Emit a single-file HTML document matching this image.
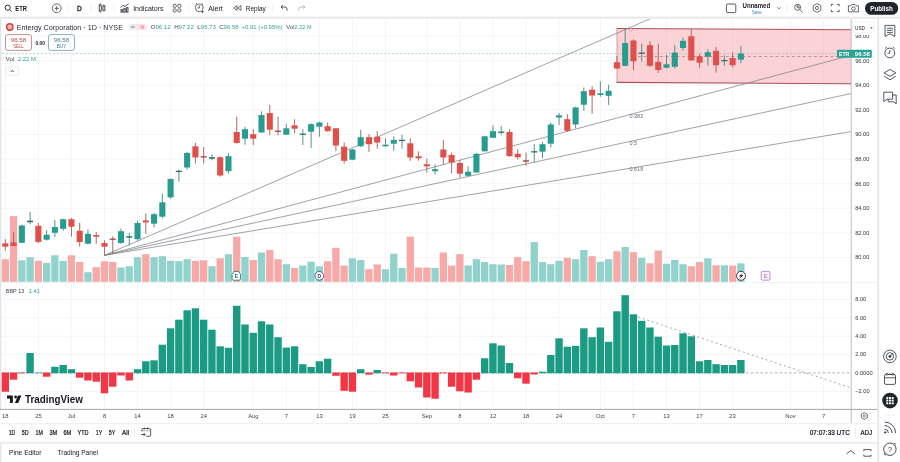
<!DOCTYPE html><html><head><meta charset="utf-8"><title>ETR</title><style>html,body{margin:0;padding:0;background:#fff;overflow:hidden}svg{display:block}</style></head><body><svg width="900" height="462" viewBox="0 0 900 462" font-family="'Liberation Sans', sans-serif" shape-rendering="auto" style="will-change:transform">
<rect width="900" height="462" fill="#fff"/>
<g stroke="#f1f2f5" stroke-width="0.8">
<line x1="5.3" y1="19" x2="5.3" y2="409.4"/>
<line x1="38.4" y1="19" x2="38.4" y2="409.4"/>
<line x1="71.4" y1="19" x2="71.4" y2="409.4"/>
<line x1="104.5" y1="19" x2="104.5" y2="409.4"/>
<line x1="137.5" y1="19" x2="137.5" y2="409.4"/>
<line x1="170.6" y1="19" x2="170.6" y2="409.4"/>
<line x1="203.7" y1="19" x2="203.7" y2="409.4"/>
<line x1="253.3" y1="19" x2="253.3" y2="409.4"/>
<line x1="286.3" y1="19" x2="286.3" y2="409.4"/>
<line x1="319.4" y1="19" x2="319.4" y2="409.4"/>
<line x1="352.4" y1="19" x2="352.4" y2="409.4"/>
<line x1="385.5" y1="19" x2="385.5" y2="409.4"/>
<line x1="426.8" y1="19" x2="426.8" y2="409.4"/>
<line x1="459.9" y1="19" x2="459.9" y2="409.4"/>
<line x1="492.9" y1="19" x2="492.9" y2="409.4"/>
<line x1="526.0" y1="19" x2="526.0" y2="409.4"/>
<line x1="559.1" y1="19" x2="559.1" y2="409.4"/>
<line x1="600.4" y1="19" x2="600.4" y2="409.4"/>
<line x1="633.4" y1="19" x2="633.4" y2="409.4"/>
<line x1="666.5" y1="19" x2="666.5" y2="409.4"/>
<line x1="699.6" y1="19" x2="699.6" y2="409.4"/>
<line x1="732.6" y1="19" x2="732.6" y2="409.4"/>
<line x1="790.5" y1="19" x2="790.5" y2="409.4"/>
<line x1="823.5" y1="19" x2="823.5" y2="409.4"/>
<line x1="2" y1="257.5" x2="851.2" y2="257.5"/>
<line x1="2" y1="232.9" x2="851.2" y2="232.9"/>
<line x1="2" y1="208.3" x2="851.2" y2="208.3"/>
<line x1="2" y1="183.7" x2="851.2" y2="183.7"/>
<line x1="2" y1="159.1" x2="851.2" y2="159.1"/>
<line x1="2" y1="134.5" x2="851.2" y2="134.5"/>
<line x1="2" y1="109.9" x2="851.2" y2="109.9"/>
<line x1="2" y1="85.3" x2="851.2" y2="85.3"/>
<line x1="2" y1="60.7" x2="851.2" y2="60.7"/>
<line x1="2" y1="36.1" x2="851.2" y2="36.1"/>
<line x1="2" y1="299.4" x2="851.2" y2="299.4"/>
<line x1="2" y1="317.8" x2="851.2" y2="317.8"/>
<line x1="2" y1="336.2" x2="851.2" y2="336.2"/>
<line x1="2" y1="354.6" x2="851.2" y2="354.6"/>
<line x1="2" y1="391.4" x2="851.2" y2="391.4"/>
</g>
<rect x="1.65" y="259.2" width="7.3" height="22.6" fill="#f7a9a7"/>
<rect x="9.92" y="216.2" width="7.3" height="65.6" fill="#f7a9a7"/>
<rect x="18.18" y="260.3" width="7.3" height="21.5" fill="#92d2cc"/>
<rect x="26.45" y="257.2" width="7.3" height="24.6" fill="#92d2cc"/>
<rect x="34.71" y="260.8" width="7.3" height="21.0" fill="#f7a9a7"/>
<rect x="42.98" y="263.0" width="7.3" height="18.8" fill="#92d2cc"/>
<rect x="51.24" y="255.3" width="7.3" height="26.5" fill="#92d2cc"/>
<rect x="59.51" y="260.8" width="7.3" height="21.0" fill="#92d2cc"/>
<rect x="67.77" y="255.3" width="7.3" height="26.5" fill="#f7a9a7"/>
<rect x="76.03" y="262.0" width="7.3" height="19.8" fill="#f7a9a7"/>
<rect x="84.30" y="272.2" width="7.3" height="9.6" fill="#92d2cc"/>
<rect x="92.56" y="267.2" width="7.3" height="14.6" fill="#f7a9a7"/>
<rect x="100.83" y="261.3" width="7.3" height="20.5" fill="#f7a9a7"/>
<rect x="109.09" y="262.0" width="7.3" height="19.8" fill="#f7a9a7"/>
<rect x="117.36" y="267.5" width="7.3" height="14.3" fill="#92d2cc"/>
<rect x="125.62" y="266.2" width="7.3" height="15.6" fill="#92d2cc"/>
<rect x="133.89" y="257.2" width="7.3" height="24.6" fill="#92d2cc"/>
<rect x="142.16" y="254.2" width="7.3" height="27.6" fill="#f7a9a7"/>
<rect x="150.42" y="257.2" width="7.3" height="24.6" fill="#92d2cc"/>
<rect x="158.69" y="256.2" width="7.3" height="25.6" fill="#92d2cc"/>
<rect x="166.95" y="260.8" width="7.3" height="21.0" fill="#92d2cc"/>
<rect x="175.22" y="261.2" width="7.3" height="20.6" fill="#92d2cc"/>
<rect x="183.48" y="259.2" width="7.3" height="22.6" fill="#92d2cc"/>
<rect x="191.75" y="260.8" width="7.3" height="21.0" fill="#f7a9a7"/>
<rect x="200.01" y="260.3" width="7.3" height="21.5" fill="#f7a9a7"/>
<rect x="208.28" y="266.3" width="7.3" height="15.5" fill="#92d2cc"/>
<rect x="216.54" y="258.3" width="7.3" height="23.5" fill="#f7a9a7"/>
<rect x="224.81" y="254.2" width="7.3" height="27.6" fill="#92d2cc"/>
<rect x="233.07" y="236.7" width="7.3" height="45.1" fill="#f7a9a7"/>
<rect x="241.34" y="257.0" width="7.3" height="24.8" fill="#92d2cc"/>
<rect x="249.60" y="260.0" width="7.3" height="21.8" fill="#f7a9a7"/>
<rect x="257.87" y="252.5" width="7.3" height="29.3" fill="#92d2cc"/>
<rect x="266.13" y="250.0" width="7.3" height="31.8" fill="#f7a9a7"/>
<rect x="274.40" y="259.2" width="7.3" height="22.6" fill="#f7a9a7"/>
<rect x="282.66" y="264.2" width="7.3" height="17.6" fill="#92d2cc"/>
<rect x="290.93" y="268.0" width="7.3" height="13.8" fill="#f7a9a7"/>
<rect x="299.19" y="265.5" width="7.3" height="16.3" fill="#92d2cc"/>
<rect x="307.46" y="261.7" width="7.3" height="20.1" fill="#92d2cc"/>
<rect x="315.72" y="266.3" width="7.3" height="15.5" fill="#92d2cc"/>
<rect x="323.99" y="261.2" width="7.3" height="20.6" fill="#f7a9a7"/>
<rect x="332.25" y="247.8" width="7.3" height="34.0" fill="#f7a9a7"/>
<rect x="340.52" y="265.5" width="7.3" height="16.3" fill="#f7a9a7"/>
<rect x="348.78" y="258.3" width="7.3" height="23.5" fill="#92d2cc"/>
<rect x="357.05" y="260.0" width="7.3" height="21.8" fill="#92d2cc"/>
<rect x="365.31" y="269.2" width="7.3" height="12.6" fill="#f7a9a7"/>
<rect x="373.58" y="264.5" width="7.3" height="17.3" fill="#f7a9a7"/>
<rect x="381.84" y="269.2" width="7.3" height="12.6" fill="#92d2cc"/>
<rect x="390.11" y="253.7" width="7.3" height="28.1" fill="#92d2cc"/>
<rect x="398.37" y="268.0" width="7.3" height="13.8" fill="#92d2cc"/>
<rect x="406.64" y="236.7" width="7.3" height="45.1" fill="#f7a9a7"/>
<rect x="414.90" y="267.5" width="7.3" height="14.3" fill="#f7a9a7"/>
<rect x="423.17" y="267.5" width="7.3" height="14.3" fill="#f7a9a7"/>
<rect x="431.43" y="268.0" width="7.3" height="13.8" fill="#92d2cc"/>
<rect x="439.70" y="252.5" width="7.3" height="29.3" fill="#f7a9a7"/>
<rect x="447.96" y="265.5" width="7.3" height="16.3" fill="#f7a9a7"/>
<rect x="456.23" y="254.2" width="7.3" height="27.6" fill="#f7a9a7"/>
<rect x="464.49" y="265.5" width="7.3" height="16.3" fill="#92d2cc"/>
<rect x="472.76" y="259.2" width="7.3" height="22.6" fill="#92d2cc"/>
<rect x="481.02" y="262.0" width="7.3" height="19.8" fill="#92d2cc"/>
<rect x="489.29" y="264.2" width="7.3" height="17.6" fill="#92d2cc"/>
<rect x="497.55" y="264.5" width="7.3" height="17.3" fill="#92d2cc"/>
<rect x="505.82" y="265.0" width="7.3" height="16.8" fill="#f7a9a7"/>
<rect x="514.08" y="257.2" width="7.3" height="24.6" fill="#f7a9a7"/>
<rect x="522.35" y="261.2" width="7.3" height="20.6" fill="#f7a9a7"/>
<rect x="530.61" y="242.0" width="7.3" height="39.8" fill="#92d2cc"/>
<rect x="538.88" y="262.0" width="7.3" height="19.8" fill="#92d2cc"/>
<rect x="547.14" y="264.2" width="7.3" height="17.6" fill="#92d2cc"/>
<rect x="555.40" y="260.8" width="7.3" height="21.0" fill="#92d2cc"/>
<rect x="563.67" y="257.8" width="7.3" height="24.0" fill="#f7a9a7"/>
<rect x="571.94" y="259.2" width="7.3" height="22.6" fill="#92d2cc"/>
<rect x="580.20" y="250.0" width="7.3" height="31.8" fill="#92d2cc"/>
<rect x="588.47" y="256.2" width="7.3" height="25.6" fill="#f7a9a7"/>
<rect x="596.73" y="261.7" width="7.3" height="20.1" fill="#92d2cc"/>
<rect x="605.00" y="259.2" width="7.3" height="22.6" fill="#92d2cc"/>
<rect x="613.26" y="251.2" width="7.3" height="30.6" fill="#f7a9a7"/>
<rect x="621.52" y="247.0" width="7.3" height="34.8" fill="#92d2cc"/>
<rect x="629.79" y="252.2" width="7.3" height="29.6" fill="#f7a9a7"/>
<rect x="638.06" y="257.8" width="7.3" height="24.0" fill="#92d2cc"/>
<rect x="646.32" y="263.3" width="7.3" height="18.5" fill="#f7a9a7"/>
<rect x="654.59" y="250.5" width="7.3" height="31.3" fill="#f7a9a7"/>
<rect x="662.85" y="263.7" width="7.3" height="18.1" fill="#92d2cc"/>
<rect x="671.12" y="260.0" width="7.3" height="21.8" fill="#92d2cc"/>
<rect x="679.38" y="264.2" width="7.3" height="17.6" fill="#92d2cc"/>
<rect x="687.64" y="266.2" width="7.3" height="15.6" fill="#f7a9a7"/>
<rect x="695.91" y="262.0" width="7.3" height="19.8" fill="#f7a9a7"/>
<rect x="704.18" y="258.3" width="7.3" height="23.5" fill="#92d2cc"/>
<rect x="712.44" y="265.3" width="7.3" height="16.5" fill="#f7a9a7"/>
<rect x="720.71" y="265.3" width="7.3" height="16.5" fill="#92d2cc"/>
<rect x="728.97" y="265.5" width="7.3" height="16.3" fill="#f7a9a7"/>
<rect x="737.24" y="263.3" width="7.3" height="18.5" fill="#92d2cc"/>
<path d="M617 28.5 L851.2 29.7 V83.7 L617 82.4 Z" fill="#fbd3d7"/>
<g stroke="#f4c9cd" stroke-width="0.7">
<line x1="633.4" y1="29.8" x2="633.4" y2="82.4"/>
<line x1="666.5" y1="29.8" x2="666.5" y2="82.4"/>
<line x1="699.6" y1="29.8" x2="699.6" y2="82.4"/>
<line x1="732.6" y1="29.8" x2="732.6" y2="82.4"/>
<line x1="790.5" y1="29.8" x2="790.5" y2="82.4"/>
<line x1="823.5" y1="29.8" x2="823.5" y2="82.4"/>
</g>
<path d="M617 28.5V82.4" fill="none" stroke="#d4848b" stroke-width="0.8"/>
<path d="M616.6 28.5L851.2 29.7M616.6 82.4L851.2 83.7" fill="none" stroke="#ae5059" stroke-width="1.15"/>
<circle cx="630.8" cy="29.6" r="1.3" fill="#fde" stroke="#a77" stroke-width="0.5"/>
<g stroke="#777a82" stroke-width="0.7" fill="none">
<line x1="104.5" y1="255.3" x2="649.6" y2="19.0"/>
<line x1="104.5" y1="255.3" x2="851.2" y2="55.3"/>
<line x1="104.5" y1="255.3" x2="851.2" y2="93.5"/>
<line x1="104.5" y1="255.3" x2="851.2" y2="131.6"/>
</g>
<text x="629.4" y="117.7" font-size="5.6" fill="#6b6e76" font-weight="normal" text-anchor="start" textLength="13.9" lengthAdjust="spacingAndGlyphs" >0.382</text>
<text x="629.4" y="144.6" font-size="5.6" fill="#6b6e76" font-weight="normal" text-anchor="start" textLength="7.6" lengthAdjust="spacingAndGlyphs" >0.5</text>
<text x="629.4" y="171.4" font-size="5.6" fill="#6b6e76" font-weight="normal" text-anchor="start" textLength="13.9" lengthAdjust="spacingAndGlyphs" >0.618</text>
<line x1="2" y1="53.6" x2="851.2" y2="53.6" stroke="#8fbdb8" stroke-width="0.65" stroke-dasharray="2.1 1.8"/>
<line x1="638" y1="56.5" x2="838" y2="56.5" stroke="#df8288" stroke-width="1" stroke-dasharray="2.8 2.7"/>
<line x1="5.30" y1="239.2" x2="5.30" y2="250.8" stroke="#a85853" stroke-width="0.9"/>
<rect x="2.25" y="243.30" width="6.1" height="3.4" fill="#e0504a"/>
<line x1="13.57" y1="232.5" x2="13.57" y2="246" stroke="#a85853" stroke-width="0.9"/>
<rect x="10.52" y="242.50" width="6.1" height="3.5" fill="#e0504a"/>
<line x1="21.83" y1="224.7" x2="21.83" y2="242.8" stroke="#45877f" stroke-width="0.9"/>
<rect x="18.78" y="225.50" width="6.1" height="17.3" fill="#289c8f"/>
<line x1="30.10" y1="212" x2="30.10" y2="224.2" stroke="#45877f" stroke-width="0.9"/>
<rect x="27.05" y="220.70" width="6.1" height="1.5" fill="#2a6f68"/>
<line x1="38.36" y1="222.8" x2="38.36" y2="243" stroke="#a85853" stroke-width="0.9"/>
<rect x="35.31" y="225.80" width="6.1" height="16.2" fill="#e0504a"/>
<line x1="46.62" y1="230.3" x2="46.62" y2="240.5" stroke="#45877f" stroke-width="0.9"/>
<rect x="43.58" y="234.70" width="6.1" height="5.0" fill="#289c8f"/>
<line x1="54.89" y1="220" x2="54.89" y2="237" stroke="#45877f" stroke-width="0.9"/>
<rect x="51.84" y="227.00" width="6.1" height="5.8" fill="#289c8f"/>
<line x1="63.16" y1="218.7" x2="63.16" y2="230.8" stroke="#45877f" stroke-width="0.9"/>
<rect x="60.11" y="219.20" width="6.1" height="9.6" fill="#289c8f"/>
<line x1="71.42" y1="218" x2="71.42" y2="236.7" stroke="#a85853" stroke-width="0.9"/>
<rect x="68.37" y="219.20" width="6.1" height="7.5" fill="#e0504a"/>
<line x1="79.69" y1="222.8" x2="79.69" y2="246.7" stroke="#a85853" stroke-width="0.9"/>
<rect x="76.64" y="230.80" width="6.1" height="11.2" fill="#e0504a"/>
<line x1="87.95" y1="229.5" x2="87.95" y2="244.3" stroke="#45877f" stroke-width="0.9"/>
<rect x="84.90" y="233.80" width="6.1" height="9.9" fill="#289c8f"/>
<line x1="96.22" y1="232" x2="96.22" y2="243.7" stroke="#a85853" stroke-width="0.9"/>
<rect x="93.17" y="235.00" width="6.1" height="1.7" fill="#e0504a"/>
<line x1="104.48" y1="240.3" x2="104.48" y2="255.3" stroke="#a85853" stroke-width="0.9"/>
<rect x="101.43" y="243.00" width="6.1" height="3.7" fill="#e0504a"/>
<line x1="112.75" y1="236.3" x2="112.75" y2="253.7" stroke="#a85853" stroke-width="0.9"/>
<rect x="109.70" y="238.55" width="6.1" height="1.3" fill="#9a4842"/>
<line x1="121.01" y1="228.7" x2="121.01" y2="243.7" stroke="#45877f" stroke-width="0.9"/>
<rect x="117.96" y="231.20" width="6.1" height="11.8" fill="#289c8f"/>
<line x1="129.28" y1="233" x2="129.28" y2="245.8" stroke="#45877f" stroke-width="0.9"/>
<rect x="126.23" y="236.20" width="6.1" height="1.5" fill="#2a6f68"/>
<line x1="137.54" y1="220.8" x2="137.54" y2="240.5" stroke="#45877f" stroke-width="0.9"/>
<rect x="134.49" y="223.00" width="6.1" height="16.2" fill="#289c8f"/>
<line x1="145.81" y1="213.3" x2="145.81" y2="233.7" stroke="#a85853" stroke-width="0.9"/>
<rect x="142.75" y="220.40" width="6.1" height="2.0" fill="#e0504a"/>
<line x1="154.07" y1="212.8" x2="154.07" y2="227.5" stroke="#45877f" stroke-width="0.9"/>
<rect x="151.02" y="214.20" width="6.1" height="9.5" fill="#289c8f"/>
<line x1="162.34" y1="193.7" x2="162.34" y2="218.3" stroke="#45877f" stroke-width="0.9"/>
<rect x="159.29" y="202.30" width="6.1" height="14.4" fill="#289c8f"/>
<line x1="170.60" y1="178.3" x2="170.60" y2="198.7" stroke="#45877f" stroke-width="0.9"/>
<rect x="167.55" y="179.00" width="6.1" height="18.3" fill="#289c8f"/>
<line x1="178.87" y1="169.5" x2="178.87" y2="181.7" stroke="#45877f" stroke-width="0.9"/>
<rect x="175.81" y="170.75" width="6.1" height="1.3" fill="#2a6f68"/>
<line x1="187.13" y1="152" x2="187.13" y2="169.7" stroke="#45877f" stroke-width="0.9"/>
<rect x="184.08" y="153.00" width="6.1" height="14.5" fill="#289c8f"/>
<line x1="195.40" y1="143" x2="195.40" y2="163.7" stroke="#a85853" stroke-width="0.9"/>
<rect x="192.35" y="146.30" width="6.1" height="11.2" fill="#e0504a"/>
<line x1="203.66" y1="147.2" x2="203.66" y2="163.7" stroke="#a85853" stroke-width="0.9"/>
<rect x="200.61" y="156.20" width="6.1" height="1.3" fill="#9a4842"/>
<line x1="211.93" y1="154.2" x2="211.93" y2="160.3" stroke="#45877f" stroke-width="0.9"/>
<rect x="208.88" y="157.20" width="6.1" height="1.5" fill="#2a6f68"/>
<line x1="220.19" y1="156.3" x2="220.19" y2="176.7" stroke="#a85853" stroke-width="0.9"/>
<rect x="217.14" y="157.20" width="6.1" height="18.3" fill="#e0504a"/>
<line x1="228.46" y1="153" x2="228.46" y2="173.7" stroke="#45877f" stroke-width="0.9"/>
<rect x="225.41" y="156.20" width="6.1" height="15.0" fill="#289c8f"/>
<line x1="236.72" y1="116.7" x2="236.72" y2="143.7" stroke="#a85853" stroke-width="0.9"/>
<rect x="233.67" y="132.00" width="6.1" height="11.0" fill="#e0504a"/>
<line x1="244.99" y1="126.7" x2="244.99" y2="144.7" stroke="#45877f" stroke-width="0.9"/>
<rect x="241.94" y="129.20" width="6.1" height="9.5" fill="#289c8f"/>
<line x1="253.25" y1="129.2" x2="253.25" y2="145" stroke="#a85853" stroke-width="0.9"/>
<rect x="250.20" y="134.20" width="6.1" height="4.5" fill="#e0504a"/>
<line x1="261.52" y1="111.3" x2="261.52" y2="132.5" stroke="#45877f" stroke-width="0.9"/>
<rect x="258.47" y="115.00" width="6.1" height="17.5" fill="#289c8f"/>
<line x1="269.78" y1="105" x2="269.78" y2="135.3" stroke="#a85853" stroke-width="0.9"/>
<rect x="266.73" y="113.00" width="6.1" height="16.7" fill="#e0504a"/>
<line x1="278.05" y1="116.7" x2="278.05" y2="135.3" stroke="#a85853" stroke-width="0.9"/>
<rect x="275.00" y="130.60" width="6.1" height="1.3" fill="#9a4842"/>
<line x1="286.31" y1="124.2" x2="286.31" y2="134.7" stroke="#45877f" stroke-width="0.9"/>
<rect x="283.26" y="128.30" width="6.1" height="6.4" fill="#289c8f"/>
<line x1="294.58" y1="119.2" x2="294.58" y2="133.3" stroke="#a85853" stroke-width="0.9"/>
<rect x="291.53" y="125.30" width="6.1" height="3.4" fill="#e0504a"/>
<line x1="302.84" y1="129.2" x2="302.84" y2="145" stroke="#45877f" stroke-width="0.9"/>
<rect x="299.79" y="133.55" width="6.1" height="1.3" fill="#2a6f68"/>
<line x1="311.11" y1="123.3" x2="311.11" y2="148" stroke="#45877f" stroke-width="0.9"/>
<rect x="308.06" y="124.20" width="6.1" height="7.5" fill="#289c8f"/>
<line x1="319.37" y1="121.7" x2="319.37" y2="136.7" stroke="#45877f" stroke-width="0.9"/>
<rect x="316.32" y="122.50" width="6.1" height="4.2" fill="#289c8f"/>
<line x1="327.64" y1="122.5" x2="327.64" y2="131.7" stroke="#a85853" stroke-width="0.9"/>
<rect x="324.59" y="126.20" width="6.1" height="5.0" fill="#e0504a"/>
<line x1="335.90" y1="128.3" x2="335.90" y2="151.3" stroke="#a85853" stroke-width="0.9"/>
<rect x="332.85" y="128.30" width="6.1" height="17.2" fill="#e0504a"/>
<line x1="344.17" y1="142.5" x2="344.17" y2="163.7" stroke="#a85853" stroke-width="0.9"/>
<rect x="341.12" y="146.70" width="6.1" height="14.1" fill="#e0504a"/>
<line x1="352.43" y1="148.7" x2="352.43" y2="160.3" stroke="#45877f" stroke-width="0.9"/>
<rect x="349.38" y="149.50" width="6.1" height="10.2" fill="#289c8f"/>
<line x1="360.70" y1="130" x2="360.70" y2="147" stroke="#45877f" stroke-width="0.9"/>
<rect x="357.65" y="137.20" width="6.1" height="9.0" fill="#289c8f"/>
<line x1="368.96" y1="134.2" x2="368.96" y2="151.7" stroke="#a85853" stroke-width="0.9"/>
<rect x="365.91" y="137.20" width="6.1" height="7.0" fill="#e0504a"/>
<line x1="377.23" y1="131.3" x2="377.23" y2="148.7" stroke="#a85853" stroke-width="0.9"/>
<rect x="374.18" y="136.70" width="6.1" height="5.8" fill="#e0504a"/>
<line x1="385.49" y1="138.3" x2="385.49" y2="146.7" stroke="#45877f" stroke-width="0.9"/>
<rect x="382.44" y="144.70" width="6.1" height="1.6" fill="#289c8f"/>
<line x1="393.76" y1="136.3" x2="393.76" y2="150.8" stroke="#45877f" stroke-width="0.9"/>
<rect x="390.71" y="140.00" width="6.1" height="3.7" fill="#289c8f"/>
<line x1="402.02" y1="134.7" x2="402.02" y2="148.7" stroke="#45877f" stroke-width="0.9"/>
<rect x="398.97" y="139.75" width="6.1" height="1.3" fill="#2a6f68"/>
<line x1="410.29" y1="138.3" x2="410.29" y2="160.8" stroke="#a85853" stroke-width="0.9"/>
<rect x="407.24" y="143.30" width="6.1" height="14.2" fill="#e0504a"/>
<line x1="418.55" y1="151.3" x2="418.55" y2="160.8" stroke="#a85853" stroke-width="0.9"/>
<rect x="415.50" y="156.30" width="6.1" height="2.0" fill="#e0504a"/>
<line x1="426.82" y1="158.7" x2="426.82" y2="172.5" stroke="#a85853" stroke-width="0.9"/>
<rect x="423.77" y="164.20" width="6.1" height="2.1" fill="#e0504a"/>
<line x1="435.08" y1="164.2" x2="435.08" y2="174.5" stroke="#45877f" stroke-width="0.9"/>
<rect x="432.03" y="169.20" width="6.1" height="2.0" fill="#289c8f"/>
<line x1="443.35" y1="140" x2="443.35" y2="164.7" stroke="#a85853" stroke-width="0.9"/>
<rect x="440.30" y="149.50" width="6.1" height="8.0" fill="#e0504a"/>
<line x1="451.61" y1="152.5" x2="451.61" y2="173.3" stroke="#a85853" stroke-width="0.9"/>
<rect x="448.56" y="155.00" width="6.1" height="7.5" fill="#e0504a"/>
<line x1="459.88" y1="160" x2="459.88" y2="177.5" stroke="#a85853" stroke-width="0.9"/>
<rect x="456.83" y="163.00" width="6.1" height="10.7" fill="#e0504a"/>
<line x1="468.14" y1="166.3" x2="468.14" y2="176.3" stroke="#45877f" stroke-width="0.9"/>
<rect x="465.09" y="171.70" width="6.1" height="4.1" fill="#289c8f"/>
<line x1="476.41" y1="153" x2="476.41" y2="172.5" stroke="#45877f" stroke-width="0.9"/>
<rect x="473.36" y="153.80" width="6.1" height="18.7" fill="#289c8f"/>
<line x1="484.67" y1="135.8" x2="484.67" y2="151.7" stroke="#45877f" stroke-width="0.9"/>
<rect x="481.62" y="136.30" width="6.1" height="15.0" fill="#289c8f"/>
<line x1="492.94" y1="125.3" x2="492.94" y2="137.8" stroke="#45877f" stroke-width="0.9"/>
<rect x="489.89" y="131.20" width="6.1" height="6.6" fill="#289c8f"/>
<line x1="501.20" y1="126.2" x2="501.20" y2="134.7" stroke="#45877f" stroke-width="0.9"/>
<rect x="498.15" y="131.55" width="6.1" height="1.3" fill="#2a6f68"/>
<line x1="509.47" y1="129.2" x2="509.47" y2="156.7" stroke="#a85853" stroke-width="0.9"/>
<rect x="506.42" y="132.00" width="6.1" height="24.2" fill="#e0504a"/>
<line x1="517.73" y1="149.2" x2="517.73" y2="159.5" stroke="#a85853" stroke-width="0.9"/>
<rect x="514.68" y="153.80" width="6.1" height="3.4" fill="#e0504a"/>
<line x1="526.00" y1="152.5" x2="526.00" y2="165.8" stroke="#a85853" stroke-width="0.9"/>
<rect x="522.95" y="160.30" width="6.1" height="1.4" fill="#9a4842"/>
<line x1="534.26" y1="143.8" x2="534.26" y2="162.5" stroke="#45877f" stroke-width="0.9"/>
<rect x="531.21" y="151.20" width="6.1" height="1.3" fill="#2a6f68"/>
<line x1="542.52" y1="142" x2="542.52" y2="158.3" stroke="#45877f" stroke-width="0.9"/>
<rect x="539.48" y="144.20" width="6.1" height="7.5" fill="#289c8f"/>
<line x1="550.79" y1="122.5" x2="550.79" y2="147.5" stroke="#45877f" stroke-width="0.9"/>
<rect x="547.74" y="124.50" width="6.1" height="19.2" fill="#289c8f"/>
<line x1="559.05" y1="113" x2="559.05" y2="125" stroke="#45877f" stroke-width="0.9"/>
<rect x="556.00" y="115.30" width="6.1" height="2.2" fill="#289c8f"/>
<line x1="567.32" y1="114.2" x2="567.32" y2="131.7" stroke="#a85853" stroke-width="0.9"/>
<rect x="564.27" y="119.20" width="6.1" height="11.6" fill="#e0504a"/>
<line x1="575.59" y1="106.7" x2="575.59" y2="128.3" stroke="#45877f" stroke-width="0.9"/>
<rect x="572.54" y="107.50" width="6.1" height="17.0" fill="#289c8f"/>
<line x1="583.85" y1="87.5" x2="583.85" y2="110.8" stroke="#45877f" stroke-width="0.9"/>
<rect x="580.80" y="91.20" width="6.1" height="13.5" fill="#289c8f"/>
<line x1="592.12" y1="86.3" x2="592.12" y2="113.7" stroke="#a85853" stroke-width="0.9"/>
<rect x="589.07" y="89.70" width="6.1" height="5.8" fill="#e0504a"/>
<line x1="600.38" y1="81.3" x2="600.38" y2="96.7" stroke="#45877f" stroke-width="0.9"/>
<rect x="597.33" y="93.30" width="6.1" height="1.7" fill="#289c8f"/>
<line x1="608.64" y1="84.7" x2="608.64" y2="105" stroke="#45877f" stroke-width="0.9"/>
<rect x="605.60" y="90.80" width="6.1" height="5.0" fill="#289c8f"/>
<line x1="616.91" y1="56" x2="616.91" y2="68.5" stroke="#a85853" stroke-width="0.9"/>
<rect x="613.86" y="62.20" width="6.1" height="6.3" fill="#e0504a"/>
<line x1="625.17" y1="28.8" x2="625.17" y2="66.3" stroke="#45877f" stroke-width="0.9"/>
<rect x="622.12" y="43.00" width="6.1" height="22.8" fill="#289c8f"/>
<line x1="633.44" y1="39.3" x2="633.44" y2="70" stroke="#a85853" stroke-width="0.9"/>
<rect x="630.39" y="40.50" width="6.1" height="20.8" fill="#e0504a"/>
<line x1="641.71" y1="43.8" x2="641.71" y2="61.7" stroke="#45877f" stroke-width="0.9"/>
<rect x="638.66" y="52.50" width="6.1" height="1.3" fill="#2a6f68"/>
<line x1="649.97" y1="41.3" x2="649.97" y2="67.2" stroke="#a85853" stroke-width="0.9"/>
<rect x="646.92" y="45.20" width="6.1" height="20.6" fill="#e0504a"/>
<line x1="658.24" y1="43.8" x2="658.24" y2="73" stroke="#a85853" stroke-width="0.9"/>
<rect x="655.19" y="61.80" width="6.1" height="8.2" fill="#e0504a"/>
<line x1="666.50" y1="55" x2="666.50" y2="68.3" stroke="#45877f" stroke-width="0.9"/>
<rect x="663.45" y="64.30" width="6.1" height="3.4" fill="#289c8f"/>
<line x1="674.76" y1="45.2" x2="674.76" y2="68.3" stroke="#45877f" stroke-width="0.9"/>
<rect x="671.72" y="52.50" width="6.1" height="14.3" fill="#289c8f"/>
<line x1="683.03" y1="37.7" x2="683.03" y2="50.5" stroke="#45877f" stroke-width="0.9"/>
<rect x="679.98" y="40.80" width="6.1" height="7.2" fill="#289c8f"/>
<line x1="691.29" y1="29.3" x2="691.29" y2="60.5" stroke="#a85853" stroke-width="0.9"/>
<rect x="688.25" y="36.30" width="6.1" height="24.2" fill="#e0504a"/>
<line x1="699.56" y1="53.8" x2="699.56" y2="67.7" stroke="#a85853" stroke-width="0.9"/>
<rect x="696.51" y="56.30" width="6.1" height="6.4" fill="#e0504a"/>
<line x1="707.83" y1="49.3" x2="707.83" y2="65.5" stroke="#45877f" stroke-width="0.9"/>
<rect x="704.78" y="52.20" width="6.1" height="4.5" fill="#289c8f"/>
<line x1="716.09" y1="47.2" x2="716.09" y2="72.7" stroke="#a85853" stroke-width="0.9"/>
<rect x="713.04" y="50.80" width="6.1" height="14.4" fill="#e0504a"/>
<line x1="724.36" y1="55.5" x2="724.36" y2="65.8" stroke="#45877f" stroke-width="0.9"/>
<rect x="721.31" y="59.95" width="6.1" height="1.3" fill="#2a6f68"/>
<line x1="732.62" y1="52.5" x2="732.62" y2="67.5" stroke="#a85853" stroke-width="0.9"/>
<rect x="729.57" y="58.00" width="6.1" height="7.2" fill="#e0504a"/>
<line x1="740.88" y1="46" x2="740.88" y2="63.3" stroke="#45877f" stroke-width="0.9"/>
<rect x="737.84" y="53.50" width="6.1" height="6.2" fill="#289c8f"/>
<path d="M232.10000000000002 274.3 L234.10000000000002 271.40000000000003 H238.5 L240.5 274.3 V278.8 Q240.5 280.2 239.10000000000002 280.2 H233.5 Q232.10000000000002 280.2 232.10000000000002 278.8 Z" fill="#fff" stroke="#1d6f66" stroke-width="0.8"/>
<text x="236.3" y="278.3" font-size="5" fill="#1d6f66" font-weight="bold" text-anchor="middle" >E</text>
<circle cx="319.3" cy="275.8" r="4.3" fill="#fff" stroke="#2a3d78" stroke-width="0.8"/>
<text x="319.3" y="277.7" font-size="5" fill="#2a3d78" font-weight="bold" text-anchor="middle" >D</text>
<circle cx="741" cy="275.8" r="4.5" fill="#fff" stroke="#2a2e39" stroke-width="0.9"/>
<path d="M742.8 272.4 L738.8 276.5 H740.9 L739.4 279.3 L743.4 275.1 H741.3 Z" fill="#33283f"/>
<rect x="761.2" y="271.4" width="8.8" height="8.8" rx="1.2" fill="#fbf0fc" stroke="#b58ac6" stroke-width="0.9"/>
<text x="765.6" y="278" font-size="5.6" fill="#a172bb" font-weight="normal" text-anchor="middle" >E</text>
<rect x="0" y="282.2" width="877.3" height="0.9" fill="#eceef1"/>
<line x1="2" y1="372.9" x2="851.2" y2="372.9" stroke="#8e9097" stroke-width="0.7" stroke-dasharray="2.6 2.2"/>
<rect x="1.60" y="372.5" width="7.4" height="19.2" fill="#f23645"/>
<rect x="9.87" y="372.5" width="7.4" height="7.2" fill="#f23645"/>
<rect x="18.13" y="372.5" width="7.4" height="0.9" fill="#f23645"/>
<rect x="26.40" y="353.0" width="7.4" height="20.3" fill="#1b9b84"/>
<rect x="34.66" y="372.6" width="7.4" height="0.7" fill="#1b9b84"/>
<rect x="42.92" y="372.5" width="7.4" height="4.2" fill="#f23645"/>
<rect x="51.19" y="366.8" width="7.4" height="6.5" fill="#1b9b84"/>
<rect x="59.45" y="365.0" width="7.4" height="8.3" fill="#1b9b84"/>
<rect x="67.72" y="369.2" width="7.4" height="4.1" fill="#1b9b84"/>
<rect x="75.98" y="372.5" width="7.4" height="5.2" fill="#f23645"/>
<rect x="84.25" y="372.5" width="7.4" height="8.0" fill="#f23645"/>
<rect x="92.52" y="372.5" width="7.4" height="9.2" fill="#f23645"/>
<rect x="100.78" y="372.5" width="7.4" height="20.8" fill="#f23645"/>
<rect x="109.05" y="372.5" width="7.4" height="14.2" fill="#f23645"/>
<rect x="117.31" y="372.5" width="7.4" height="3.0" fill="#f23645"/>
<rect x="125.58" y="372.5" width="7.4" height="8.0" fill="#f23645"/>
<rect x="133.84" y="369.2" width="7.4" height="4.1" fill="#1b9b84"/>
<rect x="142.11" y="361.3" width="7.4" height="12.0" fill="#1b9b84"/>
<rect x="150.37" y="360.3" width="7.4" height="13.0" fill="#1b9b84"/>
<rect x="158.64" y="344.7" width="7.4" height="28.6" fill="#1b9b84"/>
<rect x="166.90" y="328.3" width="7.4" height="45.0" fill="#1b9b84"/>
<rect x="175.17" y="319.7" width="7.4" height="53.6" fill="#1b9b84"/>
<rect x="183.43" y="310.3" width="7.4" height="63.0" fill="#1b9b84"/>
<rect x="191.70" y="308.3" width="7.4" height="65.0" fill="#1b9b84"/>
<rect x="199.96" y="319.7" width="7.4" height="53.6" fill="#1b9b84"/>
<rect x="208.23" y="329.7" width="7.4" height="43.6" fill="#1b9b84"/>
<rect x="216.49" y="346.3" width="7.4" height="27.0" fill="#1b9b84"/>
<rect x="224.76" y="347.8" width="7.4" height="25.5" fill="#1b9b84"/>
<rect x="233.02" y="305.8" width="7.4" height="67.5" fill="#1b9b84"/>
<rect x="241.29" y="324.5" width="7.4" height="48.8" fill="#1b9b84"/>
<rect x="249.55" y="332.8" width="7.4" height="40.5" fill="#1b9b84"/>
<rect x="257.82" y="321.3" width="7.4" height="52.0" fill="#1b9b84"/>
<rect x="266.08" y="324.5" width="7.4" height="48.8" fill="#1b9b84"/>
<rect x="274.35" y="337.2" width="7.4" height="36.1" fill="#1b9b84"/>
<rect x="282.61" y="347.6" width="7.4" height="25.7" fill="#1b9b84"/>
<rect x="290.88" y="346.3" width="7.4" height="27.0" fill="#1b9b84"/>
<rect x="299.14" y="364.2" width="7.4" height="9.1" fill="#1b9b84"/>
<rect x="307.41" y="367.0" width="7.4" height="6.3" fill="#1b9b84"/>
<rect x="315.67" y="361.3" width="7.4" height="12.0" fill="#1b9b84"/>
<rect x="323.94" y="358.7" width="7.4" height="14.6" fill="#1b9b84"/>
<rect x="332.20" y="372.5" width="7.4" height="3.3" fill="#f23645"/>
<rect x="340.47" y="372.5" width="7.4" height="18.3" fill="#f23645"/>
<rect x="348.73" y="372.5" width="7.4" height="19.2" fill="#f23645"/>
<rect x="357.00" y="369.2" width="7.4" height="4.1" fill="#1b9b84"/>
<rect x="365.26" y="372.5" width="7.4" height="2.2" fill="#f23645"/>
<rect x="373.53" y="370.0" width="7.4" height="3.3" fill="#1b9b84"/>
<rect x="381.79" y="372.5" width="7.4" height="0.9" fill="#f23645"/>
<rect x="390.06" y="372.5" width="7.4" height="3.0" fill="#f23645"/>
<rect x="398.32" y="372.5" width="7.4" height="0.9" fill="#f23645"/>
<rect x="406.59" y="372.5" width="7.4" height="8.8" fill="#f23645"/>
<rect x="414.85" y="372.5" width="7.4" height="15.0" fill="#f23645"/>
<rect x="423.12" y="372.5" width="7.4" height="25.0" fill="#f23645"/>
<rect x="431.38" y="372.5" width="7.4" height="26.2" fill="#f23645"/>
<rect x="439.65" y="372.5" width="7.4" height="0.9" fill="#f23645"/>
<rect x="447.91" y="372.5" width="7.4" height="14.2" fill="#f23645"/>
<rect x="456.18" y="372.5" width="7.4" height="18.8" fill="#f23645"/>
<rect x="464.44" y="372.5" width="7.4" height="20.0" fill="#f23645"/>
<rect x="472.71" y="372.5" width="7.4" height="7.2" fill="#f23645"/>
<rect x="480.97" y="358.3" width="7.4" height="15.0" fill="#1b9b84"/>
<rect x="489.24" y="343.3" width="7.4" height="30.0" fill="#1b9b84"/>
<rect x="497.50" y="345.5" width="7.4" height="27.8" fill="#1b9b84"/>
<rect x="505.77" y="363.0" width="7.4" height="10.3" fill="#1b9b84"/>
<rect x="514.03" y="372.5" width="7.4" height="5.8" fill="#f23645"/>
<rect x="522.29" y="372.5" width="7.4" height="11.2" fill="#f23645"/>
<rect x="530.56" y="372.5" width="7.4" height="2.0" fill="#f23645"/>
<rect x="538.82" y="371.7" width="7.4" height="1.6" fill="#1b9b84"/>
<rect x="547.09" y="355.0" width="7.4" height="18.3" fill="#1b9b84"/>
<rect x="555.35" y="338.3" width="7.4" height="35.0" fill="#1b9b84"/>
<rect x="563.62" y="346.7" width="7.4" height="26.6" fill="#1b9b84"/>
<rect x="571.88" y="345.8" width="7.4" height="27.5" fill="#1b9b84"/>
<rect x="580.15" y="328.3" width="7.4" height="45.0" fill="#1b9b84"/>
<rect x="588.41" y="337.2" width="7.4" height="36.1" fill="#1b9b84"/>
<rect x="596.68" y="327.5" width="7.4" height="45.8" fill="#1b9b84"/>
<rect x="604.94" y="341.8" width="7.4" height="31.5" fill="#1b9b84"/>
<rect x="613.21" y="311.3" width="7.4" height="62.0" fill="#1b9b84"/>
<rect x="621.47" y="295.2" width="7.4" height="78.1" fill="#1b9b84"/>
<rect x="629.74" y="314.3" width="7.4" height="59.0" fill="#1b9b84"/>
<rect x="638.00" y="320.8" width="7.4" height="52.5" fill="#1b9b84"/>
<rect x="646.27" y="327.5" width="7.4" height="45.8" fill="#1b9b84"/>
<rect x="654.53" y="336.7" width="7.4" height="36.6" fill="#1b9b84"/>
<rect x="662.80" y="345.5" width="7.4" height="27.8" fill="#1b9b84"/>
<rect x="671.06" y="345.0" width="7.4" height="28.3" fill="#1b9b84"/>
<rect x="679.33" y="333.3" width="7.4" height="40.0" fill="#1b9b84"/>
<rect x="687.59" y="336.3" width="7.4" height="37.0" fill="#1b9b84"/>
<rect x="695.86" y="361.3" width="7.4" height="12.0" fill="#1b9b84"/>
<rect x="704.12" y="360.0" width="7.4" height="13.3" fill="#1b9b84"/>
<rect x="712.39" y="364.2" width="7.4" height="9.1" fill="#1b9b84"/>
<rect x="720.65" y="365.0" width="7.4" height="8.3" fill="#1b9b84"/>
<rect x="728.92" y="365.0" width="7.4" height="8.3" fill="#1b9b84"/>
<rect x="737.18" y="360.0" width="7.4" height="13.3" fill="#1b9b84"/>
<line x1="638" y1="317" x2="851.2" y2="388" stroke="#93888b" stroke-width="0.7" stroke-dasharray="2.2 2.6"/>
<rect x="0" y="19" width="1.3" height="443" fill="#e2e3e7"/>
<rect x="851.2" y="19" width="26.09999999999991" height="404.2" fill="#fff"/>
<line x1="851.2" y1="19" x2="851.2" y2="423.2" stroke="#b3b5bb" stroke-width="0.85"/>
<text x="855.2" y="259.3" font-size="5.7" fill="#33363f" font-weight="normal" text-anchor="start" >80.00</text>
<text x="855.2" y="234.70000000000002" font-size="5.7" fill="#33363f" font-weight="normal" text-anchor="start" >82.00</text>
<text x="855.2" y="210.10000000000002" font-size="5.7" fill="#33363f" font-weight="normal" text-anchor="start" >84.00</text>
<text x="855.2" y="185.5" font-size="5.7" fill="#33363f" font-weight="normal" text-anchor="start" >86.00</text>
<text x="855.2" y="160.9" font-size="5.7" fill="#33363f" font-weight="normal" text-anchor="start" >88.00</text>
<text x="855.2" y="136.3" font-size="5.7" fill="#33363f" font-weight="normal" text-anchor="start" >90.00</text>
<text x="855.2" y="111.69999999999997" font-size="5.7" fill="#33363f" font-weight="normal" text-anchor="start" >92.00</text>
<text x="855.2" y="87.09999999999998" font-size="5.7" fill="#33363f" font-weight="normal" text-anchor="start" >94.00</text>
<text x="855.2" y="62.499999999999986" font-size="5.7" fill="#33363f" font-weight="normal" text-anchor="start" >96.00</text>
<text x="855.2" y="37.89999999999999" font-size="5.7" fill="#33363f" font-weight="normal" text-anchor="start" >98.00</text>
<text x="855.2" y="301.2" font-size="5.7" fill="#33363f" font-weight="normal" text-anchor="start" >8.00</text>
<text x="855.2" y="319.6" font-size="5.7" fill="#33363f" font-weight="normal" text-anchor="start" >6.00</text>
<text x="855.2" y="338.0" font-size="5.7" fill="#33363f" font-weight="normal" text-anchor="start" >4.00</text>
<text x="855.2" y="356.40000000000003" font-size="5.7" fill="#33363f" font-weight="normal" text-anchor="start" >2.00</text>
<text x="855.2" y="374.8" font-size="5.7" fill="#33363f" font-weight="normal" text-anchor="start" >0.0000</text>
<text x="855.2" y="393.2" font-size="5.7" fill="#33363f" font-weight="normal" text-anchor="start" >−2.00</text>
<rect x="851.2" y="282.2" width="26.09999999999991" height="0.9" fill="#eceef1"/>
<rect x="852" y="19.5" width="24.5" height="15.4" fill="#fff"/>
<rect x="852.6" y="21.8" width="21.6" height="10.8" rx="1.5" fill="#fff" stroke="#eceef2" stroke-width="0.7"/>
<text x="855" y="29.8" font-size="6.2" fill="#131722" font-weight="normal" text-anchor="start" textLength="9.9" lengthAdjust="spacingAndGlyphs" >USD</text>
<path d="M870.1 27.2 L871.4 28.7 L872.7 27.2 Z" fill="#444"/>
<rect x="837" y="49.8" width="34.8" height="7.9" rx="0.8" fill="#2aa397"/>
<text x="839" y="56.2" font-size="6.2" fill="#fff" font-weight="bold" text-anchor="start" textLength="10.3" lengthAdjust="spacingAndGlyphs" >ETR</text>
<text x="854.8" y="56.2" font-size="6.2" fill="#fff" font-weight="bold" text-anchor="start" textLength="15" lengthAdjust="spacingAndGlyphs" >96.58</text>
<rect x="0" y="409.4" width="877.3" height="13.800000000000011" fill="#fff"/>
<line x1="0" y1="409.4" x2="877.3" y2="409.4" stroke="#7d8089" stroke-width="0.7"/>
<line x1="851.2" y1="409.4" x2="851.2" y2="423.2" stroke="#b2b5be" stroke-width="0.9"/>
<text x="5.3" y="418" font-size="5.8" fill="#3c3f4a" font-weight="normal" text-anchor="middle" >18</text>
<text x="38.4" y="418" font-size="5.8" fill="#3c3f4a" font-weight="normal" text-anchor="middle" >25</text>
<text x="71.4" y="418" font-size="5.8" fill="#3c3f4a" font-weight="normal" text-anchor="middle" >Jul</text>
<text x="104.5" y="418" font-size="5.8" fill="#3c3f4a" font-weight="normal" text-anchor="middle" >8</text>
<text x="137.5" y="418" font-size="5.8" fill="#3c3f4a" font-weight="normal" text-anchor="middle" >14</text>
<text x="170.6" y="418" font-size="5.8" fill="#3c3f4a" font-weight="normal" text-anchor="middle" >18</text>
<text x="203.7" y="418" font-size="5.8" fill="#3c3f4a" font-weight="normal" text-anchor="middle" >24</text>
<text x="253.3" y="418" font-size="5.8" fill="#3c3f4a" font-weight="normal" text-anchor="middle" >Aug</text>
<text x="286.3" y="418" font-size="5.8" fill="#3c3f4a" font-weight="normal" text-anchor="middle" >7</text>
<text x="319.4" y="418" font-size="5.8" fill="#3c3f4a" font-weight="normal" text-anchor="middle" >13</text>
<text x="352.4" y="418" font-size="5.8" fill="#3c3f4a" font-weight="normal" text-anchor="middle" >19</text>
<text x="385.5" y="418" font-size="5.8" fill="#3c3f4a" font-weight="normal" text-anchor="middle" >25</text>
<text x="426.8" y="418" font-size="5.8" fill="#3c3f4a" font-weight="normal" text-anchor="middle" >Sep</text>
<text x="459.9" y="418" font-size="5.8" fill="#3c3f4a" font-weight="normal" text-anchor="middle" >8</text>
<text x="492.9" y="418" font-size="5.8" fill="#3c3f4a" font-weight="normal" text-anchor="middle" >12</text>
<text x="526.0" y="418" font-size="5.8" fill="#3c3f4a" font-weight="normal" text-anchor="middle" >18</text>
<text x="559.1" y="418" font-size="5.8" fill="#3c3f4a" font-weight="normal" text-anchor="middle" >24</text>
<text x="600.4" y="418" font-size="5.8" fill="#3c3f4a" font-weight="normal" text-anchor="middle" >Oct</text>
<text x="633.4" y="418" font-size="5.8" fill="#3c3f4a" font-weight="normal" text-anchor="middle" >7</text>
<text x="666.5" y="418" font-size="5.8" fill="#3c3f4a" font-weight="normal" text-anchor="middle" >13</text>
<text x="699.6" y="418" font-size="5.8" fill="#3c3f4a" font-weight="normal" text-anchor="middle" >17</text>
<text x="732.6" y="418" font-size="5.8" fill="#3c3f4a" font-weight="normal" text-anchor="middle" >23</text>
<text x="790.5" y="418" font-size="5.8" fill="#3c3f4a" font-weight="normal" text-anchor="middle" >Nov</text>
<text x="823.5" y="418" font-size="5.8" fill="#3c3f4a" font-weight="normal" text-anchor="middle" >7</text>
<path d="M864.3 412.6 L867.3 414.3 V417.7 L864.3 419.4 L861.3 417.7 V414.3 Z" fill="none" stroke="#333" stroke-width="0.7"/><circle cx="864.3" cy="416" r="1.1" fill="none" stroke="#333" stroke-width="0.6"/>
<rect x="0" y="423.2" width="877.3" height="1.2" fill="#eceef1"/>
<path d="M7 395.6 H12.8 V403 H10 V398.4 H7 Z M14.2 397 a1.4 1.4 0 1 0 2.8 0 a1.4 1.4 0 1 0 -2.8 0 M18 395.6 H21.4 L18.2 403 H14.9 Z" fill="#131722"/>
<text x="25" y="402.7" font-size="11.2" fill="#131722" font-weight="bold" text-anchor="start" textLength="57.8" lengthAdjust="spacingAndGlyphs" >TradingView</text>
<text x="5.8" y="292.6" font-size="6.2" fill="#434651" font-weight="normal" text-anchor="start" textLength="18.4" lengthAdjust="spacingAndGlyphs" >BBP 13</text>
<text x="28.7" y="292.6" font-size="6.2" fill="#2aa397" font-weight="normal" text-anchor="start" textLength="11.3" lengthAdjust="spacingAndGlyphs" >1.41</text>
<circle cx="9.8" cy="27" r="3.2" fill="#f2b4b0" stroke="#cf3f3b" stroke-width="1.4"/>
<text x="16.7" y="29.8" font-size="7.6" fill="#2a2e39" font-weight="normal" text-anchor="start" textLength="106.3" lengthAdjust="spacingAndGlyphs" >Entergy Corporation · 1D · NYSE</text>
<rect x="128.3" y="24" width="18.4" height="6" rx="3" fill="#ecedf1"/><rect x="137.5" y="24" width="9.2" height="6" rx="3" fill="#fde0e6"/><rect x="137.5" y="24" width="4" height="6" fill="#fde0e6"/>
<line x1="131.2" y1="27" x2="134.6" y2="27" stroke="#555" stroke-width="0.8"/>
<path d="M140.5 26.2 q0.9 -0.8 1.7 0 t1.7 0 M140.5 28 q0.9 -0.8 1.7 0 t1.7 0" stroke="#e0405a" stroke-width="0.6" fill="none"/>
<text x="150.8" y="29.4" font-size="6.2" fill="#434651" font-weight="normal" text-anchor="start" >O</text>
<text x="155.4" y="29.4" font-size="6.2" fill="#36a095" font-weight="normal" text-anchor="start" textLength="15.2" lengthAdjust="spacingAndGlyphs" >96.12</text>
<text x="174.2" y="29.4" font-size="6.2" fill="#434651" font-weight="normal" text-anchor="start" >H</text>
<text x="178.6" y="29.4" font-size="6.2" fill="#36a095" font-weight="normal" text-anchor="start" textLength="15.2" lengthAdjust="spacingAndGlyphs" >97.22</text>
<text x="197.3" y="29.4" font-size="6.2" fill="#434651" font-weight="normal" text-anchor="start" >L</text>
<text x="200.8" y="29.4" font-size="6.2" fill="#36a095" font-weight="normal" text-anchor="start" textLength="15" lengthAdjust="spacingAndGlyphs" >95.73</text>
<text x="219.2" y="29.4" font-size="6.2" fill="#434651" font-weight="normal" text-anchor="start" >C</text>
<text x="223.6" y="29.4" font-size="6.2" fill="#36a095" font-weight="normal" text-anchor="start" textLength="15" lengthAdjust="spacingAndGlyphs" >96.58</text>
<text x="241.5" y="29.4" font-size="6.2" fill="#36a095" font-weight="normal" text-anchor="start" textLength="41" lengthAdjust="spacingAndGlyphs" >+0.91 (+0.95%)</text>
<text x="286.3" y="29.4" font-size="6.2" fill="#434651" font-weight="normal" text-anchor="start" textLength="8.2" lengthAdjust="spacingAndGlyphs" >Vol</text>
<text x="294.6" y="29.4" font-size="6.2" fill="#36a095" font-weight="normal" text-anchor="start" textLength="17" lengthAdjust="spacingAndGlyphs" >2.22 M</text>
<rect x="5.5" y="34.6" width="26" height="15.8" rx="2.2" fill="#fff" stroke="#b9605e" stroke-width="0.7"/>
<text x="18.5" y="41.8" font-size="6.2" fill="#c0443f" font-weight="normal" text-anchor="middle" textLength="15.3" lengthAdjust="spacingAndGlyphs" >96.58</text>
<text x="18.5" y="48.3" font-size="5.2" fill="#c0443f" font-weight="normal" text-anchor="middle" textLength="10.6" lengthAdjust="spacingAndGlyphs" >SELL</text>
<text x="40.2" y="44.5" font-size="4.8" fill="#131722" font-weight="bold" text-anchor="middle" textLength="9.4" lengthAdjust="spacingAndGlyphs" >0.00</text>
<rect x="48.5" y="34.6" width="26" height="15.8" rx="2.2" fill="#fff" stroke="#5f8ba6" stroke-width="0.7"/>
<text x="61.5" y="41.8" font-size="6.2" fill="#3b7aa0" font-weight="normal" text-anchor="middle" textLength="15.3" lengthAdjust="spacingAndGlyphs" >96.58</text>
<text x="61.5" y="48.3" font-size="5.2" fill="#3b7aa0" font-weight="normal" text-anchor="middle" textLength="9.4" lengthAdjust="spacingAndGlyphs" >BUY</text>
<text x="5.8" y="61.4" font-size="6.2" fill="#434651" font-weight="normal" text-anchor="start" textLength="8.4" lengthAdjust="spacingAndGlyphs" >Vol</text>
<text x="18" y="61.4" font-size="6.2" fill="#36a095" font-weight="normal" text-anchor="start" textLength="17.8" lengthAdjust="spacingAndGlyphs" >2.22 M</text>
<rect x="5.9" y="66.8" width="12.7" height="8.5" rx="1.3" fill="#fff" stroke="#e0e3eb" stroke-width="0.7"/>
<path d="M10.7 72 L12.2 70.4 L13.7 72" fill="none" stroke="#222" stroke-width="0.8"/>
<rect x="0" y="0" width="900" height="16.7" fill="#fff"/>
<rect x="0" y="16.7" width="900" height="2" fill="#e6e7eb"/>
<circle cx="7.7" cy="7.7" r="2.6" fill="none" stroke="#2a2e39" stroke-width="1"/><line x1="9.6" y1="9.6" x2="11.5" y2="11.5" stroke="#2a2e39" stroke-width="1"/>
<text x="15.3" y="10.7" font-size="6.8" fill="#131722" font-weight="bold" text-anchor="start" textLength="11.6" lengthAdjust="spacingAndGlyphs" >ETR</text>
<circle cx="56.7" cy="8.3" r="4.4" fill="none" stroke="#2a2e39" stroke-width="0.7"/><path d="M54.4 8.3H59M56.7 6V10.6" stroke="#2a2e39" stroke-width="0.7"/>
<line x1="68" y1="4.5" x2="68" y2="12" stroke="#e6e8ee" stroke-width="0.7"/>
<line x1="91" y1="4.5" x2="91" y2="12" stroke="#e6e8ee" stroke-width="0.7"/>
<line x1="114" y1="4.5" x2="114" y2="12" stroke="#e6e8ee" stroke-width="0.7"/>
<line x1="188.7" y1="4.5" x2="188.7" y2="12" stroke="#e6e8ee" stroke-width="0.7"/>
<line x1="272.8" y1="4.5" x2="272.8" y2="12" stroke="#e6e8ee" stroke-width="0.7"/>
<text x="79.5" y="10.8" font-size="6.6" fill="#131722" font-weight="normal" text-anchor="middle" stroke="#131722" stroke-width="0.3">D</text>
<g stroke="#2a2e39" stroke-width="0.85" fill="none"><rect x="99.2" y="5" width="2" height="6"/><path d="M100.2 3.5V5M100.2 11V12.5"/><rect x="102.9" y="6" width="2" height="4.2"/><path d="M103.9 4.6V6M103.9 10.2V11.4"/></g>
<g stroke="#2a2e39" stroke-width="0.85" fill="none"><path d="M120.6 7.6 L123 5.2 L125 6.6 L128.6 3.6"/><rect x="121" y="9.6" width="1.4" height="2.6"/><rect x="123.8" y="8.6" width="1.4" height="3.6"/><rect x="126.6" y="7.6" width="1.4" height="4.6"/></g>
<text x="133.2" y="10.9" font-size="6.8" fill="#131722" font-weight="normal" text-anchor="start" textLength="30.2" lengthAdjust="spacingAndGlyphs" >Indicators</text>
<g stroke="#2a2e39" stroke-width="0.7" fill="none"><rect x="173.2" y="4.3" width="3" height="3" rx="0.8"/><rect x="177.8" y="4.3" width="3" height="3" rx="0.8"/><rect x="173.2" y="8.9" width="3" height="3" rx="0.8"/><rect x="177.8" y="8.9" width="3" height="3" rx="0.8"/></g>
<g stroke="#2a2e39" stroke-width="0.7" fill="none"><circle cx="199.3" cy="7.8" r="3.9"/><path d="M199.3 5.4V8H197.4M195.6 4.4L196.8 3.3M203 4.4L201.8 3.3"/><path d="M202.4 10.2V13.2M200.9 11.7H203.9" stroke="#fff" stroke-width="2.2"/><path d="M202.4 10.2V13.2M200.9 11.7H203.9"/></g>
<text x="208.3" y="10.9" font-size="6.8" fill="#131722" font-weight="normal" text-anchor="start" textLength="14.5" lengthAdjust="spacingAndGlyphs" >Alert</text>
<g stroke="#2a2e39" stroke-width="0.7" fill="none" stroke-linejoin="round"><path d="M237 5.6 L233.6 8 L237 10.4 Z M241 5.6 L237.6 8 L241 10.4 Z"/></g>
<text x="245.8" y="10.9" font-size="6.8" fill="#131722" font-weight="normal" text-anchor="start" textLength="20" lengthAdjust="spacingAndGlyphs" >Replay</text>
<path d="M281 7 H285 Q287 7 287 9 V10.6 M282.8 5.2 L281 7 L282.8 8.8" stroke="#2a2e39" stroke-width="0.8" fill="none"/>
<path d="M304.8 7 H300.8 Q298.8 7 298.8 9 V10.6 M303 5.2 L304.8 7 L303 8.8" stroke="#a3a6af" stroke-width="0.8" fill="none"/>
<rect x="726.4" y="4" width="9.4" height="8.6" rx="1.4" fill="none" stroke="#2a2e39" stroke-width="0.8"/>
<text x="742.6" y="8.3" font-size="6.3" fill="#131722" font-weight="bold" text-anchor="start" textLength="27.5" lengthAdjust="spacingAndGlyphs" >Unnamed</text>
<text x="756.8" y="13.6" font-size="4.8" fill="#3b82c4" font-weight="normal" text-anchor="middle" textLength="9.6" lengthAdjust="spacingAndGlyphs" >Save</text>
<path d="M777.5 7.3 L779 8.8 L780.5 7.3" stroke="#2a2e39" stroke-width="0.7" fill="none"/>
<line x1="787" y1="4.5" x2="787" y2="12" stroke="#e6e8ee" stroke-width="0.7"/>
<g stroke="#2a2e39" stroke-width="0.7" fill="none"><circle cx="797.6" cy="7.3" r="3"/><path d="M799.8 9.6L802.4 12.4M796 5.6L799 8.8M797.8 4.4V7.2H800.5"/></g>
<g stroke="#2a2e39" stroke-width="0.7" fill="none"><path d="M817 3.6 L820.8 5.8 V10.2 L817 12.4 L813.2 10.2 V5.8 Z"/><circle cx="817" cy="8" r="1.6"/></g>
<path d="M831.4 6.2V4.4H833.4M837.2 4.4H839.2V6.2M839.2 9.8V11.6H837.2M833.4 11.6H831.4V9.8" stroke="#2a2e39" stroke-width="0.8" fill="none"/>
<g stroke="#2a2e39" stroke-width="0.7" fill="none"><path d="M848.4 5.8H850.8L851.8 4.4H855L856 5.8H858.4V11.8H848.4Z"/><circle cx="853.4" cy="8.6" r="1.8"/></g>
<rect x="865" y="2" width="33.2" height="12.8" rx="6.4" fill="#22242b"/>
<text x="881.6" y="10.6" font-size="6.6" fill="#fff" font-weight="bold" text-anchor="middle" textLength="22.5" lengthAdjust="spacingAndGlyphs" >Publish</text>
<rect x="877.3" y="18.7" width="2" height="443.3" fill="#e6e7eb"/>
<rect x="879.3" y="18.7" width="20.700000000000045" height="443.3" fill="#fff"/>
<g stroke="#2a2e39" stroke-width="0.8" fill="none" stroke-linejoin="round">
<path d="M885 25.4 H894.8 V36.4 L889.9 33.8 L885 36.4 Z M887 28.2H892.8M887 30.3H892.8M887 32.4H892.8"/>
<circle cx="889.8" cy="53" r="4.9"/><path d="M889.8 50V53.2H887.6M885 48.6L886.8 47.1M894.6 48.6L892.8 47.1"/>
<path d="M890 69.4 L895.8 72.9 L890 76.4 L884.2 72.9 Z M884.2 76.2 L890 79.8 L895.8 76.2"/>
<path d="M883.8 92.2 H892.6 V99.2 H887 L883.8 101.6 Z M892.6 95 H896.2 V103.8 L893.6 101.8 H888.2 V99.4"/>
<circle cx="889.9" cy="356.4" r="6.3"/><circle cx="889.9" cy="356.4" r="3.7"/><circle cx="889.9" cy="356.4" r="1" fill="#2a2e39"/><path d="M889.9 356.4 L893.6 352.8"/>
<rect x="884.5" y="374.4" width="11" height="10" rx="1.4"/><path d="M884.5 377.8H895.5M887.4 374.4H892.6"/><circle cx="887" cy="374.3" r="0.9" fill="#fff"/><circle cx="893" cy="374.3" r="0.9" fill="#fff"/>
</g>
<circle cx="890" cy="400.6" r="7.8" fill="#22242b"/>
<rect x="886.3" y="396.9" width="2" height="2" rx="0.4" fill="#fff"/>
<rect x="886.3" y="399.6" width="2" height="2" rx="0.4" fill="#fff"/>
<rect x="886.3" y="402.3" width="2" height="2" rx="0.4" fill="#fff"/>
<rect x="889.0" y="396.9" width="2" height="2" rx="0.4" fill="#fff"/>
<rect x="889.0" y="399.6" width="2" height="2" rx="0.4" fill="#fff"/>
<rect x="889.0" y="402.3" width="2" height="2" rx="0.4" fill="#fff"/>
<rect x="891.7" y="396.9" width="2" height="2" rx="0.4" fill="#fff"/>
<rect x="891.7" y="399.6" width="2" height="2" rx="0.4" fill="#fff"/>
<rect x="891.7" y="402.3" width="2" height="2" rx="0.4" fill="#fff"/>
<line x1="883" y1="414.9" x2="897" y2="414.9" stroke="#e6e8ee" stroke-width="0.7"/>
<g stroke="#2a2e39" stroke-width="0.85" fill="none">
<path d="M884.6 422 A11 11 0 0 1 895.6 433 M884.6 425.6 A7.4 7.4 0 0 1 892 433 M884.6 429.2 A3.8 3.8 0 0 1 888.4 433"/><circle cx="885.2" cy="432.4" r="0.7" fill="#222"/>
<circle cx="889.9" cy="449.2" r="6.2"/><circle cx="894.6" cy="444.4" r="1" fill="#fff" stroke-width="0.6"/><circle cx="885.2" cy="454" r="1" fill="#fff" stroke-width="0.6"/>
</g>
<text x="889.9" y="452.2" font-size="8" fill="#2a2e39" font-weight="normal" text-anchor="middle" >?</text>
<rect x="0" y="424.4" width="877.3" height="17.49999999999999" fill="#fff"/>
<text x="12" y="434.6" font-size="7" fill="#131722" font-weight="normal" text-anchor="middle" textLength="6.6" lengthAdjust="spacingAndGlyphs" stroke="#131722" stroke-width="0.22">1D</text>
<text x="25.2" y="434.6" font-size="7" fill="#131722" font-weight="normal" text-anchor="middle" textLength="6.8" lengthAdjust="spacingAndGlyphs" stroke="#131722" stroke-width="0.22">5D</text>
<text x="39.3" y="434.6" font-size="7" fill="#131722" font-weight="normal" text-anchor="middle" textLength="7.4" lengthAdjust="spacingAndGlyphs" stroke="#131722" stroke-width="0.22">1M</text>
<text x="53.4" y="434.6" font-size="7" fill="#131722" font-weight="normal" text-anchor="middle" textLength="7.8" lengthAdjust="spacingAndGlyphs" stroke="#131722" stroke-width="0.22">3M</text>
<text x="67.4" y="434.6" font-size="7" fill="#131722" font-weight="normal" text-anchor="middle" textLength="7.8" lengthAdjust="spacingAndGlyphs" stroke="#131722" stroke-width="0.22">6M</text>
<text x="83" y="434.6" font-size="7" fill="#131722" font-weight="normal" text-anchor="middle" textLength="11" lengthAdjust="spacingAndGlyphs" stroke="#131722" stroke-width="0.22">YTD</text>
<text x="99" y="434.6" font-size="7" fill="#131722" font-weight="normal" text-anchor="middle" textLength="6.4" lengthAdjust="spacingAndGlyphs" stroke="#131722" stroke-width="0.22">1Y</text>
<text x="112" y="434.6" font-size="7" fill="#131722" font-weight="normal" text-anchor="middle" textLength="6.6" lengthAdjust="spacingAndGlyphs" stroke="#131722" stroke-width="0.22">5Y</text>
<text x="125.6" y="434.6" font-size="7" fill="#131722" font-weight="normal" text-anchor="middle" textLength="7" lengthAdjust="spacingAndGlyphs" stroke="#131722" stroke-width="0.22">All</text>
<line x1="134.5" y1="427.5" x2="134.5" y2="436.5" stroke="#e6e8ee" stroke-width="0.7"/>
<g stroke="#2a2e39" stroke-width="0.8" fill="none"><path d="M141.8 431.4 V429.6 Q141.8 428.6 142.8 428.6 H149.7 Q150.7 428.6 150.7 429.6 V435.2 Q150.7 436.2 149.7 436.2 H146.2 M144.3 427.5 V429.3 M147.6 427.5 V429.3 M141 434.5 H145 M143.6 433 L145.1 434.5 L143.6 436"/><path d="M142.2 430.8 H150.4" stroke-opacity="0.45"/></g>
<text x="809.8" y="434.9" font-size="6.6" fill="#131722" font-weight="normal" text-anchor="start" textLength="40" lengthAdjust="spacingAndGlyphs" stroke="#131722" stroke-width="0.22">07:07:33 UTC</text>
<line x1="855.4" y1="428" x2="855.4" y2="437" stroke="#e6e8ee" stroke-width="0.7"/>
<text x="860.5" y="434.9" font-size="6.6" fill="#131722" font-weight="normal" text-anchor="start" textLength="11.6" lengthAdjust="spacingAndGlyphs" stroke="#131722" stroke-width="0.22">ADJ</text>
<rect x="0" y="441.9" width="877.3" height="1.8" fill="#e9ebee"/>
<text x="9" y="455.2" font-size="7" fill="#131722" font-weight="normal" text-anchor="start" textLength="32.5" lengthAdjust="spacingAndGlyphs" >Pine Editor</text>
<text x="57.5" y="455.2" font-size="7" fill="#131722" font-weight="normal" text-anchor="start" textLength="40.5" lengthAdjust="spacingAndGlyphs" >Trading Panel</text>
<path d="M846.4 454 L850.7 450.6 L855 454" stroke="#2a2e39" stroke-width="0.8" fill="none"/>
<path d="M863.8 451.2V449.6H871V451.2M871 454.6V456.2H863.8V454.6" stroke="#2a2e39" stroke-width="0.8" fill="none"/>
</svg></body></html>
